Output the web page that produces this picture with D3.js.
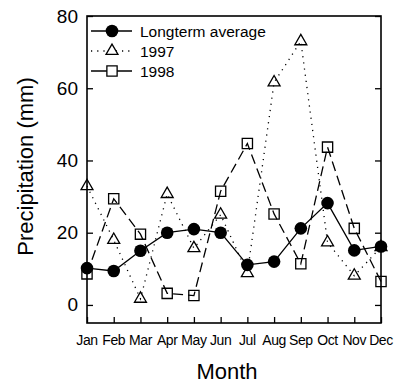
<!DOCTYPE html>
<html>
<head>
<meta charset="utf-8">
<script src="https://cdn.jsdelivr.net/npm/d3@7"></script>
<style>
  html, body { margin: 0; padding: 0; background: #fff; }
  svg { display: block; font-family: "Liberation Sans", Arial, Helvetica, sans-serif; }
</style>
</head>
<body>
<svg id="chart" width="394" height="383"></svg>
<script>
// Monthly precipitation (mm)
const months = ["Jan", "Feb", "Mar", "Apr", "May", "Jun", "Jul", "Aug", "Sep", "Oct", "Nov", "Dec"];
const longterm = [10.2, 9.4, 15.0, 20.0, 21.0, 20.0, 11.1, 12.0, 21.2, 28.2, 15.1, 16.2];
const y1997 = [32.9, 18.0, 1.7, 30.7, 15.7, 25.0, 8.8, 61.6, 73.0, 17.3, 8.1, 16.0];
const y1998 = [8.6, 29.4, 19.6, 3.2, 2.6, 31.5, 44.7, 25.2, 11.4, 43.7, 21.2, 6.5];
const yTicks = [0, 20, 40, 60, 80];

const svg = d3.select("#chart");
const plot = { left: 87, right: 381, top: 16, bottom: 323 };

const x = d3.scalePoint().domain(months).range([plot.left, plot.right]).padding(0);
const y = d3.scaleLinear().domain([-5, 80]).range([plot.bottom, plot.top]);

const dotted = "1.2,5";
const dashed = "10,5";

// Inward ticks on left, right and bottom
const tickLen = 6;
svg.append("g")
  .attr("transform", `translate(${plot.left},0)`)
  .call(d3.axisRight(y).tickValues(yTicks).tickSize(tickLen).tickFormat(""))
  .call(g => g.select(".domain").remove());
svg.append("g")
  .attr("transform", `translate(${plot.right},0)`)
  .call(d3.axisLeft(y).tickValues(yTicks).tickSize(tickLen).tickFormat(""))
  .call(g => g.select(".domain").remove());
svg.append("g")
  .attr("transform", `translate(0,${plot.bottom})`)
  .call(d3.axisTop(x).tickSize(tickLen).tickFormat(""))
  .call(g => g.select(".domain").remove());
svg.selectAll(".tick line").attr("stroke", "#000").attr("stroke-width", 1.3);

// Frame
svg.append("rect")
  .attr("x", plot.left).attr("y", plot.top)
  .attr("width", plot.right - plot.left).attr("height", plot.bottom - plot.top)
  .attr("fill", "none").attr("stroke", "#000").attr("stroke-width", 1.6);

// Y tick labels
svg.append("g").selectAll("text").data(yTicks).join("text")
  .attr("x", plot.left - 9).attr("y", d => y(d) + 6.5)
  .attr("text-anchor", "end").attr("font-size", 19).attr("fill", "#000")
  .text(d => d);

// X tick labels
svg.append("g").selectAll("text").data(months).join("text")
  .attr("x", d => x(d)).attr("y", plot.bottom + 22)
  .attr("text-anchor", "middle").attr("font-size", 14).attr("fill", "#000")
  .attr("letter-spacing", -0.4)
  .text(d => d);

// Axis titles
svg.append("text")
  .attr("x", 227).attr("y", 379)
  .attr("text-anchor", "middle").attr("font-size", 22).attr("fill", "#000")
  .text("Month");
svg.append("text")
  .attr("transform", `translate(33,${(plot.top + plot.bottom) / 2 - 3}) rotate(-90)`)
  .attr("text-anchor", "middle").attr("font-size", 22).attr("fill", "#000")
  .text("Precipitation (mm)");

const line = d3.line().x((d, i) => x(months[i])).y(d => y(d));

// Series lines
svg.append("path").datum(y1997).attr("d", line)
  .attr("fill", "none").attr("stroke", "#000").attr("stroke-width", 1.3)
  .attr("stroke-dasharray", dotted);
svg.append("path").datum(y1998).attr("d", line)
  .attr("fill", "none").attr("stroke", "#000").attr("stroke-width", 1.3)
  .attr("stroke-dasharray", dashed);
svg.append("path").datum(longterm).attr("d", line)
  .attr("fill", "none").attr("stroke", "#000").attr("stroke-width", 1.3);

// Markers
const tri = d3.symbol().type(d3.symbolTriangle).size(62);
const sq = d3.symbol().type(d3.symbolSquare).size(105);

svg.append("g").selectAll("path").data(y1997).join("path")
  .attr("d", tri)
  .attr("transform", (d, i) => `translate(${x(months[i])},${y(d)})`)
  .attr("fill", "none").attr("stroke", "#000").attr("stroke-width", 1.3);
svg.append("g").selectAll("path").data(y1998).join("path")
  .attr("d", sq)
  .attr("transform", (d, i) => `translate(${x(months[i])},${y(d)})`)
  .attr("fill", "none").attr("stroke", "#000").attr("stroke-width", 1.3);
svg.append("g").selectAll("circle").data(longterm).join("circle")
  .attr("cx", (d, i) => x(months[i])).attr("cy", d => y(d))
  .attr("r", 6.3).attr("fill", "#000");

// Legend
const legendItems = [
  { label: "Longterm average", kind: "circle" },
  { label: "1997", kind: "triangle" },
  { label: "1998", kind: "square" }
];
const lg = svg.append("g");
legendItems.forEach((item, i) => {
  const cy = 31 + i * 20;
  const row = lg.append("g");
  row.append("line")
    .attr("x1", 91).attr("x2", 132).attr("y1", cy).attr("y2", cy)
    .attr("stroke", "#000").attr("stroke-width", 1.3)
    .attr("stroke-dasharray", item.kind === "triangle" ? dotted : null);
  if (item.kind === "circle") {
    row.append("circle").attr("cx", 112).attr("cy", cy).attr("r", 6.3).attr("fill", "#000");
  } else {
    row.append("path")
      .attr("d", item.kind === "triangle" ? tri : sq)
      .attr("transform", `translate(112,${cy})`)
      .attr("fill", "#fff").attr("stroke", "#000").attr("stroke-width", 1.3);
  }
  row.append("text").attr("x", 140).attr("y", cy + 5.8)
    .attr("font-size", 15.5).attr("fill", "#000").text(item.label);
});
</script>
</body>
</html>
